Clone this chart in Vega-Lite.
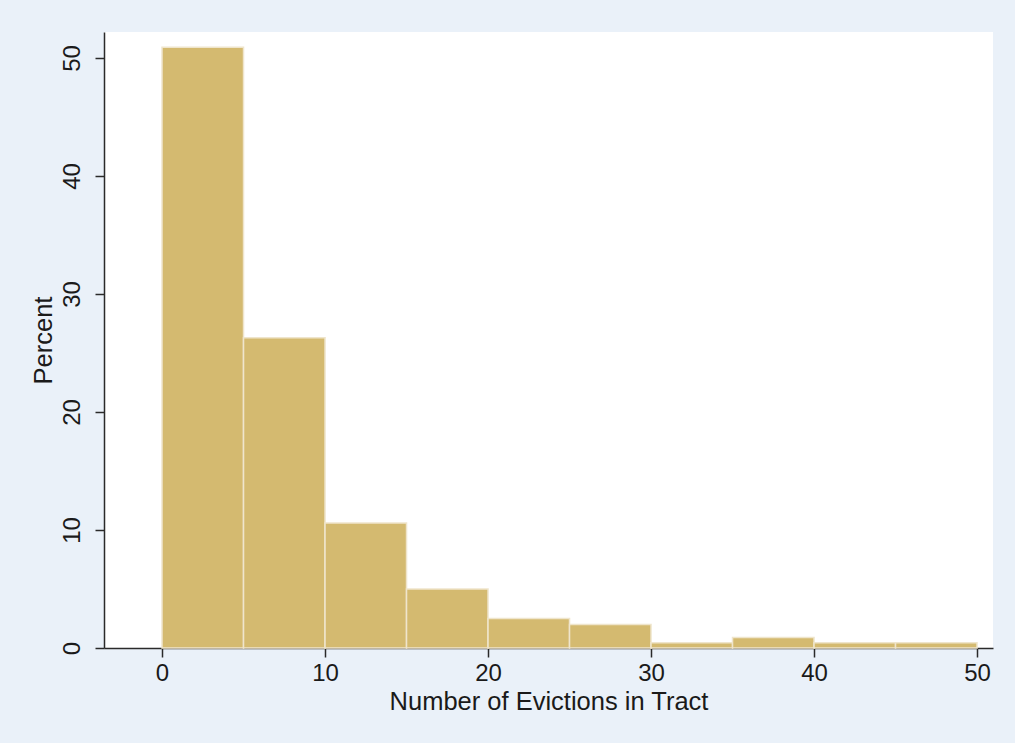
{
  "$schema": "https://vega.github.io/schema/vega-lite/v6.json",
  "width": 889,
  "height": 616,
  "autosize": {"type": "none"},
  "padding": {"left": 104, "top": 32, "right": 22, "bottom": 95},
  "background": "#eaf1f9",
  "config": {
    "view": {"fill": "#ffffff", "stroke": null},
    "font": "Liberation Sans",
    "axis": {
      "domainColor": "#2a2a2a",
      "domainWidth": 1.5,
      "tickColor": "#2a2a2a",
      "tickWidth": 1.5,
      "tickSize": 9,
      "grid": false,
      "labelFont": "Liberation Sans",
      "labelFontSize": 24,
      "labelColor": "#1a1a1a",
      "titleFont": "Liberation Sans",
      "titleFontSize": 25.5,
      "titleFontWeight": "normal",
      "titleColor": "#1a1a1a"
    }
  },
  "data": {
    "values": [
      {"bin_start": 0, "bin_end": 5, "percent": 50.9},
      {"bin_start": 5, "bin_end": 10, "percent": 26.3},
      {"bin_start": 10, "bin_end": 15, "percent": 10.6},
      {"bin_start": 15, "bin_end": 20, "percent": 5.0},
      {"bin_start": 20, "bin_end": 25, "percent": 2.5},
      {"bin_start": 25, "bin_end": 30, "percent": 2.0},
      {"bin_start": 30, "bin_end": 35, "percent": 0.45},
      {"bin_start": 35, "bin_end": 40, "percent": 0.9},
      {"bin_start": 40, "bin_end": 45, "percent": 0.45},
      {"bin_start": 45, "bin_end": 50, "percent": 0.45}
    ]
  },
  "mark": {"type": "rect", "fill": "#d4ba70", "stroke": "#efe5cc", "strokeWidth": 1.5},
  "encoding": {
    "x": {
      "field": "bin_start",
      "type": "quantitative",
      "scale": {"domain": [-3.56, 50.98], "nice": false, "zero": false},
      "axis": {
        "values": [0, 10, 20, 30, 40, 50],
        "title": "Number of Evictions in Tract",
        "labelPadding": 4,
        "titlePadding": 4
      }
    },
    "x2": {"field": "bin_end"},
    "y": {
      "field": "percent",
      "type": "quantitative",
      "scale": {"domain": [0, 52.2], "nice": false},
      "axis": {
        "values": [0, 10, 20, 30, 40, 50],
        "title": "Percent",
        "labelAngle": 270,
        "labelAlign": "center",
        "labelBaseline": "bottom",
        "labelPadding": 11,
        "titlePadding": 4
      }
    },
    "y2": {"datum": 0}
  }
}
